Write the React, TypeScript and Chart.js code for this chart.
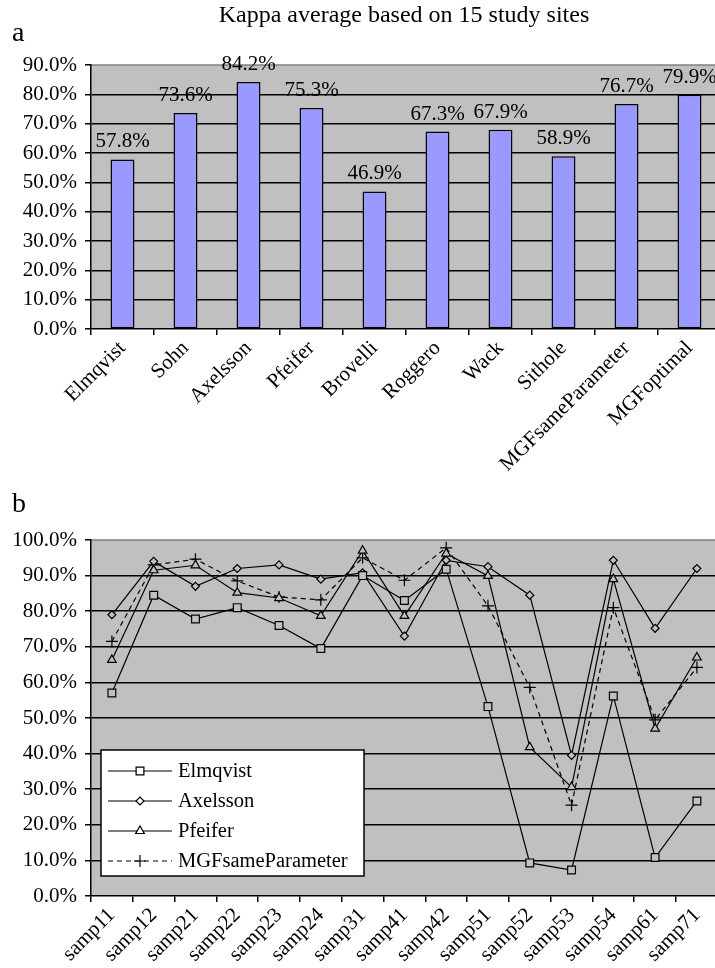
import React, { useEffect, useRef } from 'react';
import { Chart, registerables } from 'chart.js';
Chart.register(...registerables);

const FONT = "'Liberation Serif', 'Times New Roman', serif";

// ---- Panel a data ----
const chartTitle = 'Kappa average based on 15 study sites';
const barCategories = ['Elmqvist', 'Sohn', 'Axelsson', 'Pfeifer', 'Brovelli', 'Roggero', 'Wack', 'Sithole', 'MGFsameParameter', 'MGFoptimal'];
const barValues = [57.8, 73.6, 84.2, 75.3, 46.9, 67.3, 67.9, 58.9, 76.7, 79.9];

// ---- Panel b data ----
const sampleSites = ['samp11', 'samp12', 'samp21', 'samp22', 'samp23', 'samp24', 'samp31', 'samp41', 'samp42', 'samp51', 'samp52', 'samp53', 'samp54', 'samp61', 'samp71'];
const elmqvistValues = [57.0, 84.5, 77.8, 81.0, 76.0, 69.5, 90.0, 83.0, 91.8, 53.2, 9.3, 7.3, 56.2, 10.8, 26.7];
const axelssonValues = [79.0, 94.0, 87.0, 92.0, 93.0, 89.0, 90.8, 73.0, 94.3, 92.5, 84.5, 39.5, 94.3, 75.2, 92.0];
const pfeiferValues = [66.3, 91.5, 92.9, 85.2, 83.7, 78.7, 97.0, 78.7, 96.2, 89.9, 41.8, 30.6, 89.0, 47.0, 67.0];
const mgfSameValues = [71.5, 93.0, 94.6, 88.5, 84.0, 83.2, 95.0, 88.7, 97.8, 81.5, 58.6, 25.5, 81.0, 49.5, 64.2];

const PLOT_BG = '#c0c0c0';
const TICK_SIZE = 21;

const plotBg = {
  id: 'plotBg',
  beforeDraw(chart: any) {
    const { ctx, chartArea: a } = chart;
    ctx.save();
    ctx.fillStyle = PLOT_BG;
    ctx.fillRect(a.left, a.top, a.right - a.left, a.bottom - a.top);
    ctx.strokeStyle = '#808080';
    ctx.lineWidth = 1.5;
    ctx.beginPath();
    ctx.moveTo(a.left, a.top);
    ctx.lineTo(a.right, a.top);
    ctx.lineTo(a.right, a.bottom);
    ctx.stroke();
    ctx.restore();
  },
};

function yAxis(max: number, axisWidth: number) {
  return {
    min: 0,
    max,
    afterFit: (s: any) => { s.width = axisWidth; },
    ticks: {
      stepSize: 10,
      color: '#000',
      padding: 8,
      font: { family: FONT, size: TICK_SIZE },
      callback: (v: any) => Number(v).toFixed(1) + '%',
    },
    grid: {
      color: (c: any) => (c.tick && c.tick.value >= max) || (c.tick && c.tick.value === 0) ? 'rgba(0,0,0,0)' : '#000',
      tickColor: '#000',
      lineWidth: 1.5,
      tickLength: 6,
      drawTicks: true,
    },
    border: { display: true, color: '#000', width: 1.5 },
  };
}

function xAxis(height: number) {
  return {
    offset: true,
    afterFit: (s: any) => { s.height = height; s.paddingLeft = 0; s.paddingRight = 0; },
    ticks: {
      color: '#000',
      autoSkip: false,
      maxRotation: 45,
      minRotation: 45,
      padding: 1,
      font: { family: FONT, size: TICK_SIZE },
    },
    grid: {
      offset: true,
      drawOnChartArea: false,
      drawTicks: true,
      tickLength: 6,
      color: '#000',
      lineWidth: 1.5,
    },
    border: { display: true, color: '#000', width: 1.5 },
  };
}

function drawMarker(ctx: CanvasRenderingContext2D, style: string, x: number, y: number, r: number) {
  ctx.beginPath();
  if (style === 'rect') {
    const s = Math.SQRT1_2 * r;
    ctx.rect(x - s, y - s, 2 * s, 2 * s);
    ctx.fill(); ctx.stroke();
  } else if (style === 'rectRot') {
    ctx.moveTo(x - r, y); ctx.lineTo(x, y - r); ctx.lineTo(x + r, y); ctx.lineTo(x, y + r); ctx.closePath();
    ctx.fill(); ctx.stroke();
  } else if (style === 'triangle') {
    let rad = 0;
    ctx.moveTo(x + Math.sin(rad) * r, y - Math.cos(rad) * r);
    rad += (2 * Math.PI) / 3;
    ctx.lineTo(x + Math.sin(rad) * r, y - Math.cos(rad) * r);
    rad += (2 * Math.PI) / 3;
    ctx.lineTo(x + Math.sin(rad) * r, y - Math.cos(rad) * r);
    ctx.closePath();
    ctx.fill(); ctx.stroke();
  } else if (style === 'cross') {
    ctx.moveTo(x, y - r); ctx.lineTo(x, y + r);
    ctx.moveTo(x - r, y); ctx.lineTo(x + r, y);
    ctx.stroke();
  }
}

const panelA = {
  id: 'panelA',
  afterDatasetsDraw(chart: any) {
    const { ctx, chartArea: a } = chart;
    const meta = chart.getDatasetMeta(0);
    ctx.save();
    ctx.fillStyle = '#000';
    ctx.font = `${TICK_SIZE}px ${FONT}`;
    ctx.textAlign = 'center';
    ctx.textBaseline = 'alphabetic';
    meta.data.forEach((bar: any, i: number) => {
      ctx.fillText(barValues[i].toFixed(1) + '%', bar.x, bar.y - 12);
    });
    ctx.font = `24px ${FONT}`;
    ctx.fillText(chartTitle, (a.left + a.right) / 2 - 2, 22);
    ctx.textAlign = 'left';
    ctx.font = `28px ${FONT}`;
    ctx.fillText('a', 12, 41);
    ctx.restore();
  },
};

const panelB = {
  id: 'panelB',
  afterDraw(chart: any) {
    const { ctx } = chart;
    ctx.save();
    ctx.fillStyle = '#000';
    ctx.textAlign = 'left';
    ctx.textBaseline = 'alphabetic';
    ctx.font = `28px ${FONT}`;
    ctx.fillText('b', 12, 22);

    // legend box
    const L = 101, T = 260, R = 364, B = 386;
    ctx.fillStyle = '#fff';
    ctx.fillRect(L, T, R - L, B - T);
    ctx.strokeStyle = '#000';
    ctx.lineWidth = 1.5;
    ctx.strokeRect(L, T, R - L, B - T);
    chart.data.datasets.forEach((ds: any, i: number) => {
      const y = 281 + i * 30;
      ctx.save();
      ctx.strokeStyle = '#000';
      ctx.lineWidth = 1.2;
      ctx.setLineDash(ds.borderDash || []);
      ctx.beginPath();
      ctx.moveTo(108, y);
      ctx.lineTo(172, y);
      ctx.stroke();
      ctx.setLineDash([]);
      ctx.fillStyle = '#fff';
      ctx.lineWidth = 1.2;
      drawMarker(ctx, ds.pointStyle, 140, y, ds.pointRadius);
      ctx.restore();
      ctx.fillStyle = '#000';
      ctx.font = `20.5px ${FONT}`;
      ctx.textBaseline = 'middle';
      ctx.fillText(ds.label, 178, y + 1);
    });
    ctx.restore();
  },
};

export default function App() {
  const refA = useRef<HTMLCanvasElement>(null);
  const refB = useRef<HTMLCanvasElement>(null);

  useEffect(() => {
    const chartA = new Chart(refA.current as HTMLCanvasElement, {
      type: 'bar',
      data: {
        labels: barCategories,
        datasets: [{
          label: 'Kappa',
          data: barValues,
          backgroundColor: '#9999ff',
          borderColor: '#000',
          borderWidth: 1.5,
          borderSkipped: false,
          barPercentage: 0.38,
          categoryPercentage: 1,
        }],
      },
      options: {
        animation: false,
        responsive: false,
        layout: { padding: { top: 65, right: 4, left: 0, bottom: 0 } },
        plugins: { legend: { display: false }, title: { display: false }, tooltip: { enabled: false } },
        scales: { x: xAxis(161) as any, y: yAxis(90, 91) as any },
      },
      plugins: [plotBg, panelA],
    });

    const lineCommon = { borderColor: '#000', borderWidth: 1.2, pointBorderColor: '#000', pointBorderWidth: 1.2, pointBackgroundColor: PLOT_BG, tension: 0 };
    const chartB = new Chart(refB.current as HTMLCanvasElement, {
      type: 'line',
      data: {
        labels: sampleSites,
        datasets: [
          { ...lineCommon, label: 'Elmqvist', data: elmqvistValues, pointStyle: 'rect', pointRadius: 5.5 },
          { ...lineCommon, label: 'Axelsson', data: axelssonValues, pointStyle: 'rectRot', pointRadius: 4 },
          { ...lineCommon, label: 'Pfeifer', data: pfeiferValues, pointStyle: 'triangle', pointRadius: 5 },
          { ...lineCommon, label: 'MGFsameParameter', data: mgfSameValues, pointStyle: 'cross', pointRadius: 6, borderDash: [5, 4] },
        ] as any,
      },
      options: {
        animation: false,
        responsive: false,
        layout: { padding: { top: 50, right: 4, left: 0, bottom: 0 } },
        plugins: { legend: { display: false }, title: { display: false }, tooltip: { enabled: false } },
        scales: { x: xAxis(72) as any, y: yAxis(100, 91) as any },
      },
      plugins: [plotBg, panelB],
    });

    return () => { chartA.destroy(); chartB.destroy(); };
  }, []);

  return (
    <div style={{ position: 'absolute', left: 0, top: 0, width: 715, height: 968, overflow: 'hidden', background: '#fff' }}>
      <canvas ref={refA} width={725} height={490} style={{ position: 'absolute', left: 0, top: 0, display: 'block' }} />
      <canvas ref={refB} width={725} height={478} style={{ position: 'absolute', left: 0, top: 490, display: 'block' }} />
    </div>
  );
}
